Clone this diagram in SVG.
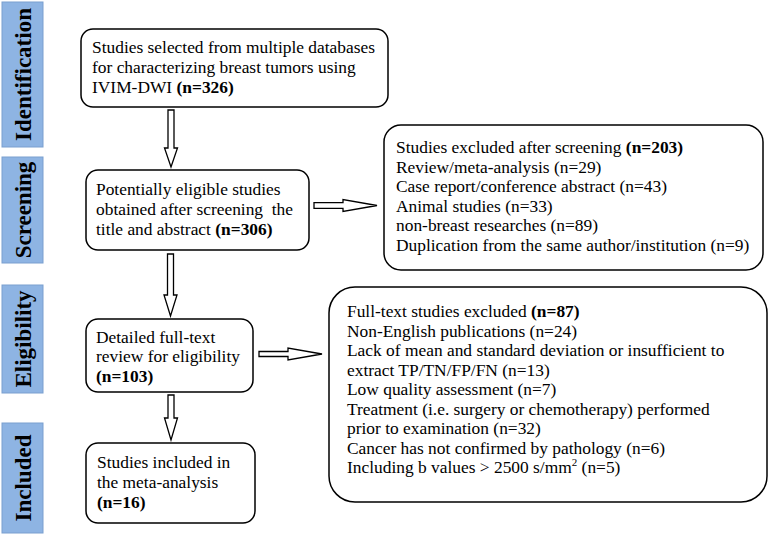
<svg xmlns="http://www.w3.org/2000/svg" width="768" height="535" viewBox="0 0 768 535">
<style>
.phase{fill:#8EB4E3;stroke:#7A9FCF;stroke-width:1}
.ptxt{font-family:"Liberation Serif","Times New Roman",serif;font-weight:bold;font-size:23px;fill:#000}
.box{fill:#fff;stroke:#000;stroke-width:1.5}
.t{font-family:"Liberation Serif","Times New Roman",serif;font-size:17.4px;fill:#000}
.b{font-weight:bold}
.arr{fill:#fff;stroke:#000;stroke-width:1.3;stroke-linejoin:miter}
</style>
<rect width="768" height="535" fill="#fff"/>
<g id="phase-identification">
<rect class="phase" x="2" y="2" width="41" height="145"/>
<text class="ptxt" transform="translate(31,74.5) rotate(-90)" text-anchor="middle">Identification</text>
</g>
<g id="phase-screening">
<rect class="phase" x="2" y="157" width="41" height="106"/>
<text class="ptxt" transform="translate(31,210) rotate(-90)" text-anchor="middle">Screening</text>
</g>
<g id="phase-eligibility">
<rect class="phase" x="2" y="285" width="41" height="108"/>
<text class="ptxt" transform="translate(31,339) rotate(-90)" text-anchor="middle">Eligibility</text>
</g>
<g id="phase-included">
<rect class="phase" x="2" y="423" width="41" height="110"/>
<text class="ptxt" transform="translate(31,478) rotate(-90)" text-anchor="middle">Included</text>
</g>
<g id="n1">
<rect class="box" x="81" y="29" width="307" height="78" rx="12"/>
<text class="t" x="92" y="53">Studies selected from multiple databases</text>
<text class="t" x="92" y="73">for characterizing breast tumors using</text>
<text class="t" x="92" y="93">IVIM-DWI <tspan class="b">(n=326)</tspan></text>
</g>
<g id="n2">
<rect class="box" x="86" y="170" width="223" height="80" rx="12"/>
<text class="t" x="96" y="195">Potentially eligible studies</text>
<text class="t" x="96" y="215" xml:space="preserve">obtained after screening  the</text>
<text class="t" x="96" y="235">title and abstract <tspan class="b">(n=306)</tspan></text>
</g>
<g id="n3">
<rect class="box" x="384" y="125" width="379" height="145" rx="17"/>
<text class="t" x="396" y="153">Studies excluded after screening <tspan class="b">(n=203)</tspan></text>
<text class="t" x="396" y="172.6">Review/meta-analysis (n=29)</text>
<text class="t" x="396" y="192.2">Case report/conference abstract (n=43)</text>
<text class="t" x="396" y="211.8">Animal studies (n=33)</text>
<text class="t" x="396" y="231.4">non-breast researches (n=89)</text>
<text class="t" x="396" y="251">Duplication from the same author/institution (n=9)</text>
</g>
<g id="n4">
<rect class="box" x="86" y="319" width="167" height="73" rx="12"/>
<text class="t" x="96" y="342.5">Detailed full-text</text>
<text class="t" x="96" y="362">review for eligibility</text>
<text class="t b" x="96" y="382">(n=103)</text>
</g>
<g id="n5">
<rect class="box" x="86" y="443" width="169" height="80" rx="12"/>
<text class="t" x="97" y="468">Studies included in</text>
<text class="t" x="97" y="488">the meta-analysis</text>
<text class="t b" x="97" y="508">(n=16)</text>
</g>
<g id="n6">
<rect class="box" x="329" y="287" width="438" height="215" rx="26"/>
<text class="t" x="347" y="317">Full-text studies excluded <tspan class="b">(n=87)</tspan></text>
<text class="t" x="347" y="336.5">Non-English publications (n=24)</text>
<text class="t" x="347" y="356">Lack of mean and standard deviation or insufficient to</text>
<text class="t" x="347" y="375.5">extract TP/TN/FP/FN (n=13)</text>
<text class="t" x="347" y="395">Low quality assessment (n=7)</text>
<text class="t" x="347" y="414.5">Treatment (i.e. surgery or chemotherapy) performed</text>
<text class="t" x="347" y="434">prior to examination (n=32)</text>
<text class="t" x="347" y="453.5">Cancer has not confirmed by pathology (n=6)</text>
<text class="t" x="347" y="473">Including b values &gt; 2500 s/mm<tspan font-size="11" dy="-7">2</tspan><tspan dy="7"> (n=5)</tspan></text>
</g>
<g id="connectors">
<polygon class="arr" points="168,110 174,110 174,148 177.5,148 171,167 164.5,148 168,148"/>
<polygon class="arr" points="167.5,254 173.5,254 173.5,295 177,295 170.5,316 164,295 167.5,295"/>
<polygon class="arr" points="168,395 174,395 174,418 177.5,418 171,440 164.5,418 168,418"/>
<polygon class="arr" points="314,202.7 343,202.7 343,199.5 377,205.5 343,211.5 343,208.3 314,208.3"/>
<polygon class="arr" points="259,351.5 288,351.5 288,348 322,354 288,360 288,356.5 259,356.5"/>
</g>
</svg>
